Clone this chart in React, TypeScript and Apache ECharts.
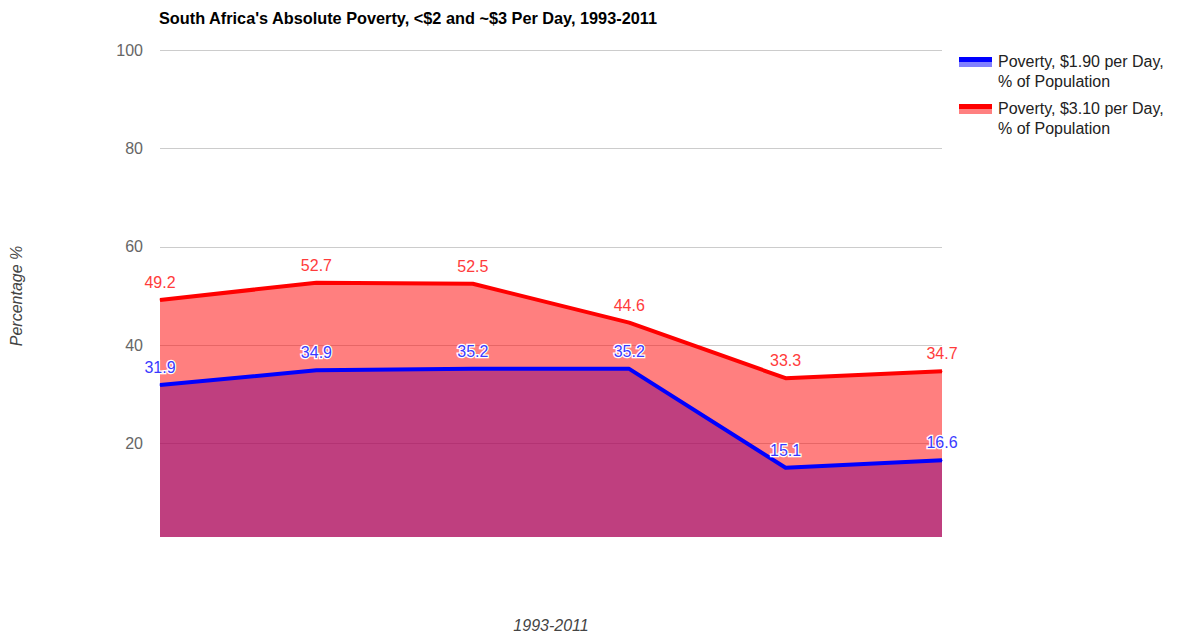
import React, { useEffect, useRef } from "react";
import * as echarts from "echarts";

const categories = ["1993", "1996", "2000", "2005", "2008", "2011"];
const poverty190 = [31.9, 34.9, 35.2, 35.2, 15.1, 16.6];
const poverty310 = [49.2, 52.7, 52.5, 44.6, 33.3, 34.7];
const yTicks = [0, 20, 40, 60, 80, 100];
const areaBase = 1;
const seriesNames = ["Poverty, $1.90 per Day,\n% of Population", "Poverty, $3.10 per Day,\n% of Population"];
const titleText = "South Africa's Absolute Poverty, <$2 and ~$3 Per Day, 1993-2011";

const FONT = "Arial, 'Liberation Sans', sans-serif";

export default function App() {
  const ref = useRef<HTMLDivElement>(null);
  useEffect(() => {
    if (!ref.current) return;
    const chart = echarts.init(ref.current, undefined, { renderer: "svg" });
    const legendItem = (y: number, dark: string, light: string, text: string) => ({
      type: "group",
      children: [
        { type: "rect", shape: { x: 959, y: y - 4, width: 33, height: 5 }, style: { fill: dark } },
        { type: "rect", shape: { x: 959, y: y + 1, width: 33, height: 5 }, style: { fill: light } },
        {
          type: "text",
          x: 998,
          y: y - 10,
          style: { text, fill: "#222", font: `16px ${FONT}`, lineHeight: 20, textVerticalAlign: "top" },
        },
      ],
    });
    const labelCommon = {
      show: true,
      position: "top",
      distance: 9,
      fontFamily: FONT,
      fontSize: 16,
    };
    chart.setOption({
      animation: false,
      backgroundColor: "#fff",
      title: {
        text: titleText,
        left: 154,
        top: 5,
        textStyle: { fontFamily: FONT, fontSize: 16.3, fontWeight: "bold", color: "#000" },
      },
      grid: { left: 159, right: 236, top: 50, bottom: 88.5 },
      xAxis: {
        type: "category",
        data: categories,
        boundaryGap: false,
        axisLine: { show: false },
        axisTick: { show: false },
        axisLabel: { show: false },
        name: "1993-2011",
        nameLocation: "middle",
        nameGap: 75,
        nameTextStyle: { fontFamily: FONT, fontSize: 16, fontStyle: "italic", color: "#444" },
      },
      yAxis: {
        type: "value",
        min: 0,
        max: 100,
        interval: 20,
        axisLine: { show: false },
        axisTick: { show: false },
        axisLabel: {
          fontFamily: FONT,
          fontSize: 16,
          color: "#666",
          margin: 17,
          formatter: (v: number) => (v === yTicks[0] ? "" : String(v)),
        },
        splitLine: {
          lineStyle: {
            color: yTicks.map((v) => (v === yTicks[0] ? "rgba(0,0,0,0)" : "#ccc")),
            width: 1,
          },
        },
        name: "Percentage %",
        nameLocation: "middle",
        nameGap: 136,
        nameTextStyle: { fontFamily: FONT, fontSize: 16, fontStyle: "italic", color: "#444" },
      },
      series: [
        {
          type: "line",
          name: "area190",
          data: poverty190,
          showSymbol: false,
          lineStyle: { width: 0, opacity: 0 },
          areaStyle: { color: "#0000ff", opacity: 0.5, origin: areaBase },
          z: 1,
        },
        {
          type: "line",
          name: "area310",
          data: poverty310,
          showSymbol: false,
          lineStyle: { width: 0, opacity: 0 },
          areaStyle: { color: "#ff0000", opacity: 0.5, origin: areaBase },
          z: 2,
        },
        {
          type: "line",
          name: seriesNames[1],
          data: poverty310,
          symbol: "circle",
          symbolSize: 1,
          showSymbol: true,
          itemStyle: { color: "#ff0000" },
          lineStyle: { color: "#ff0000", width: 4, join: "round" },
          label: { ...labelCommon, color: "#ff3b3b" },
          z: 3,
        },
        {
          type: "line",
          name: seriesNames[0],
          data: poverty190,
          symbol: "circle",
          symbolSize: 1,
          showSymbol: true,
          itemStyle: { color: "#0000ff" },
          lineStyle: { color: "#0000ff", width: 4, join: "round" },
          label: { ...labelCommon, color: "#3b3bff", textBorderColor: "#fff", textBorderWidth: 2.5 },
          z: 4,
        },
      ],
      graphic: [
        legendItem(61, "#0000ff", "#8080ff", seriesNames[0]),
        legendItem(108, "#ff0000", "#ff8080", seriesNames[1]),
      ],
    });
    return () => chart.dispose();
  }, []);
  return <div ref={ref} style={{ width: 1178, height: 638, position: "absolute", left: 0, top: 0 }} />;
}
